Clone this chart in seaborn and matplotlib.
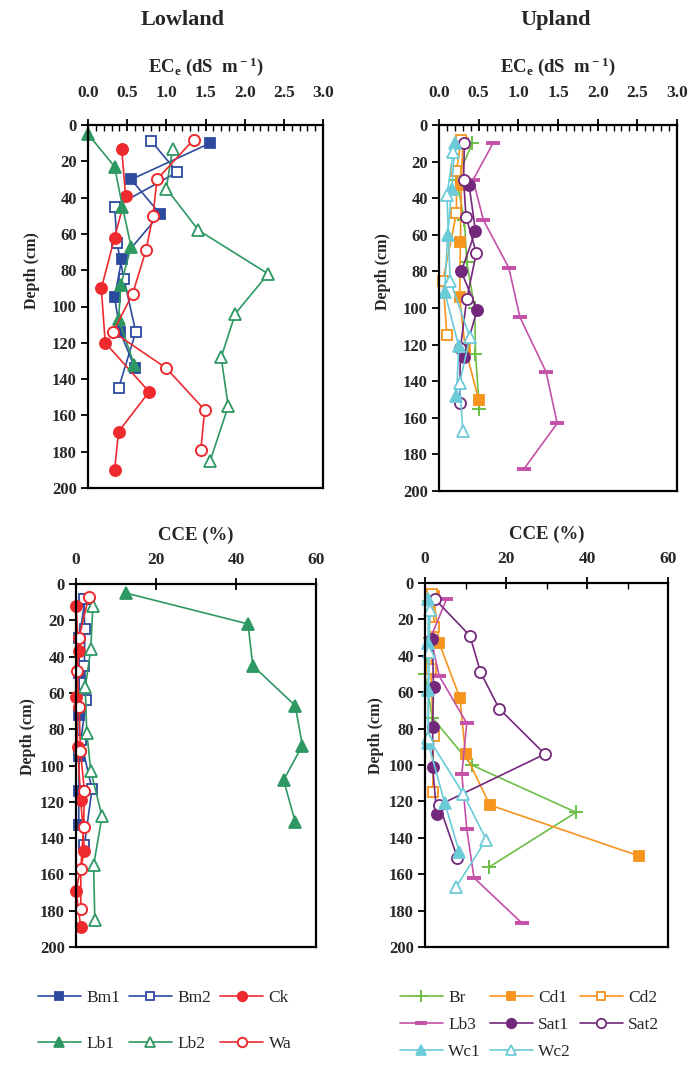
import numpy as np
import pandas as pd
import matplotlib
matplotlib.use("Agg")
import matplotlib.pyplot as plt
import seaborn as sns
from matplotlib.ticker import MultipleLocator
from matplotlib.lines import Line2D

# ---------------- data ----------------
# Lowland EC (dS m-1)
bm1_ec_depth = [10, 30, 49, 74, 95, 114, 134]
bm1_ec = [1.56, 0.55, 0.92, 0.43, 0.34, 0.41, 0.60]
bm2_ec_depth = [9, 26, 45, 65, 85, 114, 145]
bm2_ec = [0.81, 1.14, 0.34, 0.37, 0.46, 0.61, 0.39]
ck_ec_depth = [13, 39, 62, 90, 120, 147, 169, 190]
ck_ec = [0.43, 0.48, 0.34, 0.17, 0.22, 0.78, 0.39, 0.34]
lb1_ec_depth = [5, 23, 45, 67, 88, 107, 132]
lb1_ec = [0.00, 0.34, 0.44, 0.55, 0.42, 0.39, 0.59]
lb2_ec_depth = [13, 35, 58, 82, 104, 128, 155, 185]
lb2_ec = [1.08, 1.00, 1.41, 2.30, 1.88, 1.70, 1.79, 1.56]
wa_ec_depth = [8, 30, 50, 69, 93, 114, 134, 157, 179]
wa_ec = [1.35, 0.88, 0.83, 0.74, 0.57, 0.32, 1.00, 1.49, 1.44]

# Upland EC (dS m-1)
br_ec_depth = [10, 30, 52, 75, 100, 125, 155]
br_ec = [0.42, 0.22, 0.32, 0.35, 0.45, 0.46, 0.51]
cd1_ec_depth = [10, 33, 64, 94, 122, 150]
cd1_ec = [0.30, 0.28, 0.27, 0.26, 0.33, 0.50]
cd2_ec_depth = [8, 25, 48, 85, 115]
cd2_ec = [0.28, 0.22, 0.22, 0.05, 0.10]
lb3_ec_depth = [10, 30, 52, 78, 105, 135, 163, 188]
lb3_ec = [0.68, 0.43, 0.56, 0.88, 1.02, 1.35, 1.49, 1.07]
sat1_ec_depth = [33, 58, 80, 101, 127]
sat1_ec = [0.38, 0.46, 0.28, 0.48, 0.31]
sat2_ec_depth = [10, 30, 50, 70, 95, 122, 152]
sat2_ec = [0.32, 0.31, 0.34, 0.47, 0.35, 0.27, 0.26]
wc1_ec_depth = [10, 35, 60, 91, 121, 148]
wc1_ec = [0.20, 0.16, 0.11, 0.07, 0.25, 0.22]
wc2_ec_depth = [15, 38, 85, 116, 141, 167]
wc2_ec = [0.18, 0.10, 0.14, 0.39, 0.26, 0.30]

# Lowland CCE (%)
bm1_cce_depth = [8, 30, 49, 72, 95, 114, 133]
bm1_cce = [2.3, 0.8, 0.8, 0.8, 0.8, 0.7, 0.7]
bm2_cce_depth = [8, 25, 45, 64, 86, 113, 144]
bm2_cce = [1.9, 2.2, 2.1, 2.6, 1.2, 4.0, 2.1]
ck_cce_depth = [12, 37, 62, 90, 119, 147, 169, 189]
ck_cce = [0.0, 0.7, 0.1, 0.4, 1.2, 2.1, 0.0, 1.2]
lb1_cce_depth = [5, 22, 45, 67, 89, 108, 131]
lb1_cce = [12.5, 43.0, 44.2, 54.8, 56.6, 51.9, 54.8]
lb2_cce_depth = [12, 36, 57, 82, 103, 128, 155, 185]
lb2_cce = [4.2, 3.7, 2.3, 2.7, 3.7, 6.5, 4.4, 4.7]
wa_cce_depth = [7, 30, 48, 68, 92, 114, 134, 157, 179]
wa_cce = [3.2, 0.7, 0.3, 0.8, 1.1, 2.1, 1.9, 1.2, 1.2]

# Upland CCE (%)
br_cce_depth = [10, 30, 50, 74, 100, 126, 156]
br_cce = [1.0, 1.2, 0.0, 1.8, 11.5, 37.3, 15.9]
cd1_cce_depth = [7, 33, 63, 94, 122, 150]
cd1_cce = [2.1, 3.5, 8.6, 10.0, 16.0, 52.9]
cd2_cce_depth = [6, 24, 47, 84, 115]
cd2_cce = [1.8, 2.3, 1.4, 2.1, 1.9]
lb3_cce_depth = [9, 30, 51, 77, 105, 135, 162, 187]
lb3_cce = [5.3, 1.4, 3.5, 10.3, 9.1, 10.3, 12.1, 24.0]
sat1_cce_depth = [31, 57, 79, 101, 127]
sat1_cce = [1.8, 2.1, 1.9, 1.9, 2.9]
sat2_cce_depth = [9, 29, 49, 69, 94, 122, 151]
sat2_cce = [2.5, 11.1, 13.7, 18.3, 29.6, 3.5, 8.0]
wc1_cce_depth = [9, 33, 59, 88, 121, 148]
wc1_cce = [0.8, 0.8, 0.8, 0.8, 4.9, 8.5]
wc2_cce_depth = [15, 38, 85, 116, 141, 167]
wc2_cce = [1.2, 1.0, 0.8, 9.5, 15.1, 7.7]

lowland_names = ["Bm1", "Bm2", "Ck", "Lb1", "Lb2", "Wa"]
upland_names = ["Br", "Cd1", "Cd2", "Lb3", "Sat1", "Sat2", "Wc1", "Wc2"]

ec_ticks = [0.0, 0.5, 1.0, 1.5, 2.0, 2.5, 3.0]
cce_ticks = [0, 20, 40, 60]
depth_ticks = [0, 20, 40, 60, 80, 100, 120, 140, 160, 180, 200]

# ---------------- styles ----------------
BLUE = "#2D4B9E"
RED = "#EE2A2E"
GREEN = "#2E9862"
LGREEN = "#6DBE45"
ORANGE = "#F7941D"
PINK = "#C450A8"
PURPLE = "#74287C"
CYAN = "#6CCBD8"

STYLE = {
    "Bm1": dict(color=BLUE, marker="s", filled=True, ms=7.5, mew=1.3),
    "Bm2": dict(color=BLUE, marker="s", filled=False, ms=7.5, mew=1.3),
    "Ck": dict(color=RED, marker="o", filled=True, ms=8, mew=1.3),
    "Lb1": dict(color=GREEN, marker="^", filled=True, ms=9, mew=1.3),
    "Lb2": dict(color=GREEN, marker="^", filled=False, ms=9, mew=1.3),
    "Wa": dict(color=RED, marker="o", filled=False, ms=8, mew=1.4),
    "Br": dict(color=LGREEN, marker="+", filled=True, ms=9.5, mew=1.4),
    "Cd1": dict(color=ORANGE, marker="s", filled=True, ms=7.5, mew=1.3),
    "Cd2": dict(color=ORANGE, marker="s", filled=False, ms=7.5, mew=1.3),
    "Lb3": dict(color=PINK, marker="_", filled=True, ms=9.5, mew=2.8),
    "Sat1": dict(color=PURPLE, marker="o", filled=True, ms=8, mew=1.3),
    "Sat2": dict(color=PURPLE, marker="o", filled=False, ms=8, mew=1.3),
    "Wc1": dict(color=CYAN, marker="^", filled=True, ms=9, mew=1.3),
    "Wc2": dict(color=CYAN, marker="^", filled=False, ms=9, mew=1.3),
}

DATA = {
    "ec_low": {"Bm1": (bm1_ec, bm1_ec_depth), "Bm2": (bm2_ec, bm2_ec_depth),
               "Ck": (ck_ec, ck_ec_depth), "Lb1": (lb1_ec, lb1_ec_depth),
               "Lb2": (lb2_ec, lb2_ec_depth), "Wa": (wa_ec, wa_ec_depth)},
    "ec_up": {"Br": (br_ec, br_ec_depth), "Cd1": (cd1_ec, cd1_ec_depth),
              "Cd2": (cd2_ec, cd2_ec_depth), "Lb3": (lb3_ec, lb3_ec_depth),
              "Sat1": (sat1_ec, sat1_ec_depth), "Sat2": (sat2_ec, sat2_ec_depth),
              "Wc1": (wc1_ec, wc1_ec_depth), "Wc2": (wc2_ec, wc2_ec_depth)},
    "cce_low": {"Bm1": (bm1_cce, bm1_cce_depth), "Bm2": (bm2_cce, bm2_cce_depth),
                "Ck": (ck_cce, ck_cce_depth), "Lb1": (lb1_cce, lb1_cce_depth),
                "Lb2": (lb2_cce, lb2_cce_depth), "Wa": (wa_cce, wa_cce_depth)},
    "cce_up": {"Br": (br_cce, br_cce_depth), "Cd1": (cd1_cce, cd1_cce_depth),
               "Cd2": (cd2_cce, cd2_cce_depth), "Lb3": (lb3_cce, lb3_cce_depth),
               "Sat1": (sat1_cce, sat1_cce_depth), "Sat2": (sat2_cce, sat2_cce_depth),
               "Wc1": (wc1_cce, wc1_cce_depth), "Wc2": (wc2_cce, wc2_cce_depth)},
}

# ---------------- theme ----------------
sns.set_theme(style="white")
plt.rcParams["font.family"] = ["Liberation Serif", "DejaVu Serif"]
plt.rcParams["mathtext.fontset"] = "custom"
plt.rcParams["mathtext.rm"] = "Liberation Serif:bold"
plt.rcParams["mathtext.it"] = "Liberation Serif:bold"
plt.rcParams["mathtext.bf"] = "Liberation Serif:bold"

W, H = 689, 1066
fig = plt.figure(figsize=(W / 100, H / 100), dpi=100)
fig.patch.set_facecolor("white")


def rect(l, r, t, b):
    return [l / W, 1 - b / H, (r - l) / W, (b - t) / H]


ax_tl = fig.add_axes(rect(88, 323, 125, 488))
ax_tr = fig.add_axes(rect(439, 677, 125, 491))
ax_bl = fig.add_axes(rect(76, 316, 584, 947))
ax_br = fig.add_axes(rect(425, 668, 583, 947))


def draw(ax, key, names):
    for name in names:
        x, y = DATA[key][name]
        st = STYLE[name]
        df = pd.DataFrame({"val": x, "depth": y})
        sns.lineplot(data=df, x="val", y="depth", ax=ax, sort=False,
                     estimator=None, orient="y", color=st["color"],
                     linewidth=1.2, marker=st["marker"], markersize=st["ms"],
                     markerfacecolor=st["color"] if st["filled"] else "white",
                     markeredgecolor=st["color"], markeredgewidth=st["mew"],
                     legend=False, clip_on=False)


def style_axes(ax, xmax, xticks, xminor, xlabel, label_fmt, ylab_xy):
    ax.set_xlim(0, xmax)
    ax.set_ylim(200, 0)
    ax.xaxis.tick_top()
    ax.xaxis.set_label_position("top")
    ax.set_xticks(xticks)
    ax.set_xticklabels([label_fmt(v) for v in xticks], fontsize=12.5,
                       fontweight="bold")
    if xminor:
        ax.xaxis.set_minor_locator(MultipleLocator(xminor))
    ax.set_yticks(depth_ticks)
    ax.set_yticklabels([str(v) for v in depth_ticks], fontsize=12,
                       fontweight="bold")
    ax.tick_params(axis="x", which="major", direction="inout", length=9,
                   width=1.3, color="black", top=True, bottom=False)
    ax.tick_params(axis="x", which="minor", direction="in", length=4,
                   width=1.0, color="black", top=True, bottom=False)
    ax.tick_params(axis="y", which="major", direction="out", length=5,
                   width=1.3, color="black", left=True, pad=3)
    for sp in ax.spines.values():
        sp.set_visible(True)
        sp.set_color("black")
        sp.set_linewidth(1.6)
    ax.set_ylabel("Depth (cm)", fontsize=11.5, fontweight="bold")
    ax.yaxis.set_label_coords(*ylab_xy)
    ax.set_xlabel(xlabel, fontsize=13.5, fontweight="bold", labelpad=9)
    ax.grid(False)
    ax.set_facecolor("white")


ec_label = r"EC$_{\rm e}$ (dS  m$^{\rm -1}$)"
draw(ax_tl, "ec_low", lowland_names)
draw(ax_tr, "ec_up", upland_names)
draw(ax_bl, "cce_low", lowland_names)
draw(ax_br, "cce_up", upland_names)

style_axes(ax_tl, 3.0, ec_ticks, 0.1, ec_label, lambda v: f"{v:.1f}",
           (-0.205, 0.6))
style_axes(ax_tr, 3.0, ec_ticks, 0.1, ec_label, lambda v: f"{v:.1f}",
           (-0.2, 0.6))
for ax in (ax_tl, ax_tr):
    ax.tick_params(axis="x", which="major", pad=13)
style_axes(ax_bl, 60, cce_ticks, None, "CCE (%)", lambda v: f"{v:d}",
           (-0.168, 0.58))
style_axes(ax_br, 60, cce_ticks, 10, "CCE (%)", lambda v: f"{v:d}",
           (-0.17, 0.58))
for ax in (ax_bl, ax_br):
    ax.tick_params(axis="x", which="major", pad=7)

fig.text(183 / W, 1 - 20 / H, "Lowland", ha="center", va="center",
         fontsize=16, fontweight="bold")
fig.text(556 / W, 1 - 20 / H, "Upland", ha="center", va="center",
         fontsize=16, fontweight="bold")


def handle(name):
    st = STYLE[name]
    return Line2D([], [], color=st["color"], linewidth=1.2, marker=st["marker"],
                  markersize=st["ms"] * 0.85,
                  markerfacecolor=st["color"] if st["filled"] else "white",
                  markeredgecolor=st["color"], markeredgewidth=st["mew"])


low_order = ["Bm1", "Lb1", "Bm2", "Lb2", "Ck", "Wa"]
leg1 = fig.legend([handle(n) for n in low_order], low_order, ncol=3,
                  loc="upper left", bbox_to_anchor=(22 / W, 1 - 974 / H),
                  frameon=False, fontsize=12.5, handlelength=2.5,
                  handletextpad=0.3, columnspacing=0.5, labelspacing=1.75)

up_order = ["Br", "Lb3", "Wc1", "Cd1", "Sat1", "Wc2", "Cd2", "Sat2"]
leg2 = fig.legend([handle(n) for n in up_order], up_order, ncol=3,
                  loc="upper left", bbox_to_anchor=(384 / W, 1 - 974 / H),
                  frameon=False, fontsize=12.5, handlelength=2.5,
                  handletextpad=0.3, columnspacing=0.5, labelspacing=0.62)

fig.savefig("out.png", dpi=100, facecolor="white")
